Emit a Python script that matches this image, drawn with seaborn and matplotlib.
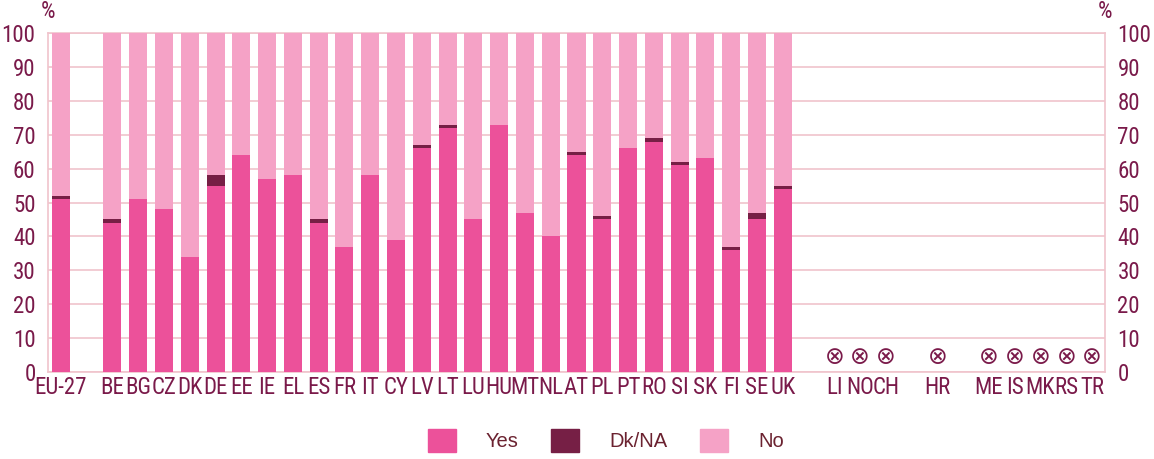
import matplotlib
matplotlib.use("Agg")
import matplotlib.pyplot as plt
import matplotlib.patches as mpatches
from matplotlib import font_manager
import seaborn as sns
import pandas as pd

# slots along the x axis (blank strings are gaps between groups)
order = ["EU-27", " ",
         "BE", "BG", "CZ", "DK", "DE", "EE", "IE", "EL", "ES", "FR", "IT", "CY", "LV",
         "LT", "LU", "HU", "MT", "NL", "AT", "PL", "PT", "RO", "SI", "SK", "FI", "SE", "UK",
         "  ", "LI", "NO", "CH", "   ", "HR", "    ", "ME", "IS", "MK", "RS", "TR"]

countries = ["EU-27", "BE", "BG", "CZ", "DK", "DE", "EE", "IE", "EL", "ES", "FR", "IT", "CY",
             "LV", "LT", "LU", "HU", "MT", "NL", "AT", "PL", "PT", "RO", "SI", "SK", "FI", "SE", "UK"]
yes = [51, 44, 51, 48, 34, 55, 64, 57, 58, 44, 37, 58, 39,
       66, 72, 45, 73, 47, 40, 64, 45, 66, 68, 61, 63, 36, 45, 54]
dkna = [1, 1, 0, 0, 0, 3, 0, 0, 0, 1, 0, 0, 0,
        1, 1, 0, 0, 0, 0, 1, 1, 0, 1, 1, 0, 1, 2, 1]
no_data = ["LI", "NO", "CH", "HR", "ME", "IS", "MK", "RS", "TR"]

df = pd.DataFrame({"country": countries, "yes": yes, "dkna": dkna})
df["no"] = 100 - df["yes"] - df["dkna"]
df["yes_dk"] = df["yes"] + df["dkna"]
df["total"] = df["yes"] + df["dkna"] + df["no"]

c_yes = "#EC519A"
c_dk = "#761F45"
c_no = "#F5A2C6"
c_txt = "#7A1A4A"
c_grid = "#F0C4CC"

sns.set_style("white")

# a narrow face for the tick labels if one is around, else a smaller regular one
tick_font, tick_size = "Liberation Sans", 12.5
for fam in ["Roboto Condensed", "DejaVu Sans Condensed", "Liberation Sans Narrow",
            "Open Sans Condensed", "Noto Sans Condensed"]:
    try:
        font_manager.findfont(font_manager.FontProperties(family=fam), fallback_to_default=False)
        tick_font, tick_size = fam, 16.5
        break
    except ValueError:
        pass
plt.rcParams["font.family"] = [tick_font, "DejaVu Sans"]

fig = plt.figure(figsize=(11.54, 4.59), dpi=100)
ax = fig.add_axes([0.0416, 0.1895, 0.9159, 0.7385])

# stacked look: draw cumulative totals on top of each other
kw = dict(data=df, x="country", order=order, width=0.7, linewidth=0,
          saturation=1, errorbar=None, ax=ax, zorder=3)
sns.barplot(y="total", color=c_no, **kw)
sns.barplot(y="yes_dk", color=c_dk, **kw)
sns.barplot(y="yes", color=c_yes, **kw)

# countries without data
for c in no_data:
    ax.text(order.index(c), 4.4, "\u2297", ha="center", va="center",
            fontsize=17, color=c_txt, family="DejaVu Sans", zorder=4)

ax.set_xlim(-0.5, len(order) - 0.5)
ax.set_ylim(0, 100)
ax.set_yticks(range(0, 101, 10))
ax.yaxis.grid(True, color=c_grid, linewidth=1.2, zorder=0)
ax.set_axisbelow(True)
ax.set_xlabel("")
ax.set_ylabel("")
ax.set_xticks(range(len(order)))
ax.set_xticklabels(order)
ax.tick_params(axis="both", length=0, labelsize=tick_size, colors=c_txt)
ax.tick_params(axis="x", pad=3)
ax.tick_params(axis="y", labelright=True, pad=9)
for s in ax.spines.values():
    s.set_color(c_grid)
    s.set_linewidth(1.2)

ax.text(0.0, 1.03, "%", transform=ax.transAxes, ha="center", va="bottom",
        fontsize=tick_size, color=c_txt)
ax.text(1.0, 1.03, "%", transform=ax.transAxes, ha="center", va="bottom",
        fontsize=tick_size, color=c_txt)

handles = [mpatches.Patch(color=c_yes, label="Yes"),
           mpatches.Patch(color=c_dk, label="Dk/NA"),
           mpatches.Patch(color=c_no, label="No")]
leg = fig.legend(handles=handles, loc="center", bbox_to_anchor=(0.525, 0.04), ncol=3,
                 frameon=False, handlelength=1.4, handleheight=1.4, handletextpad=1.5,
                 columnspacing=1.6, prop={"family": "Liberation Sans", "size": 14.5})
for t in leg.get_texts():
    t.set_color("#6B2230")

fig.savefig("out.png", dpi=100)
